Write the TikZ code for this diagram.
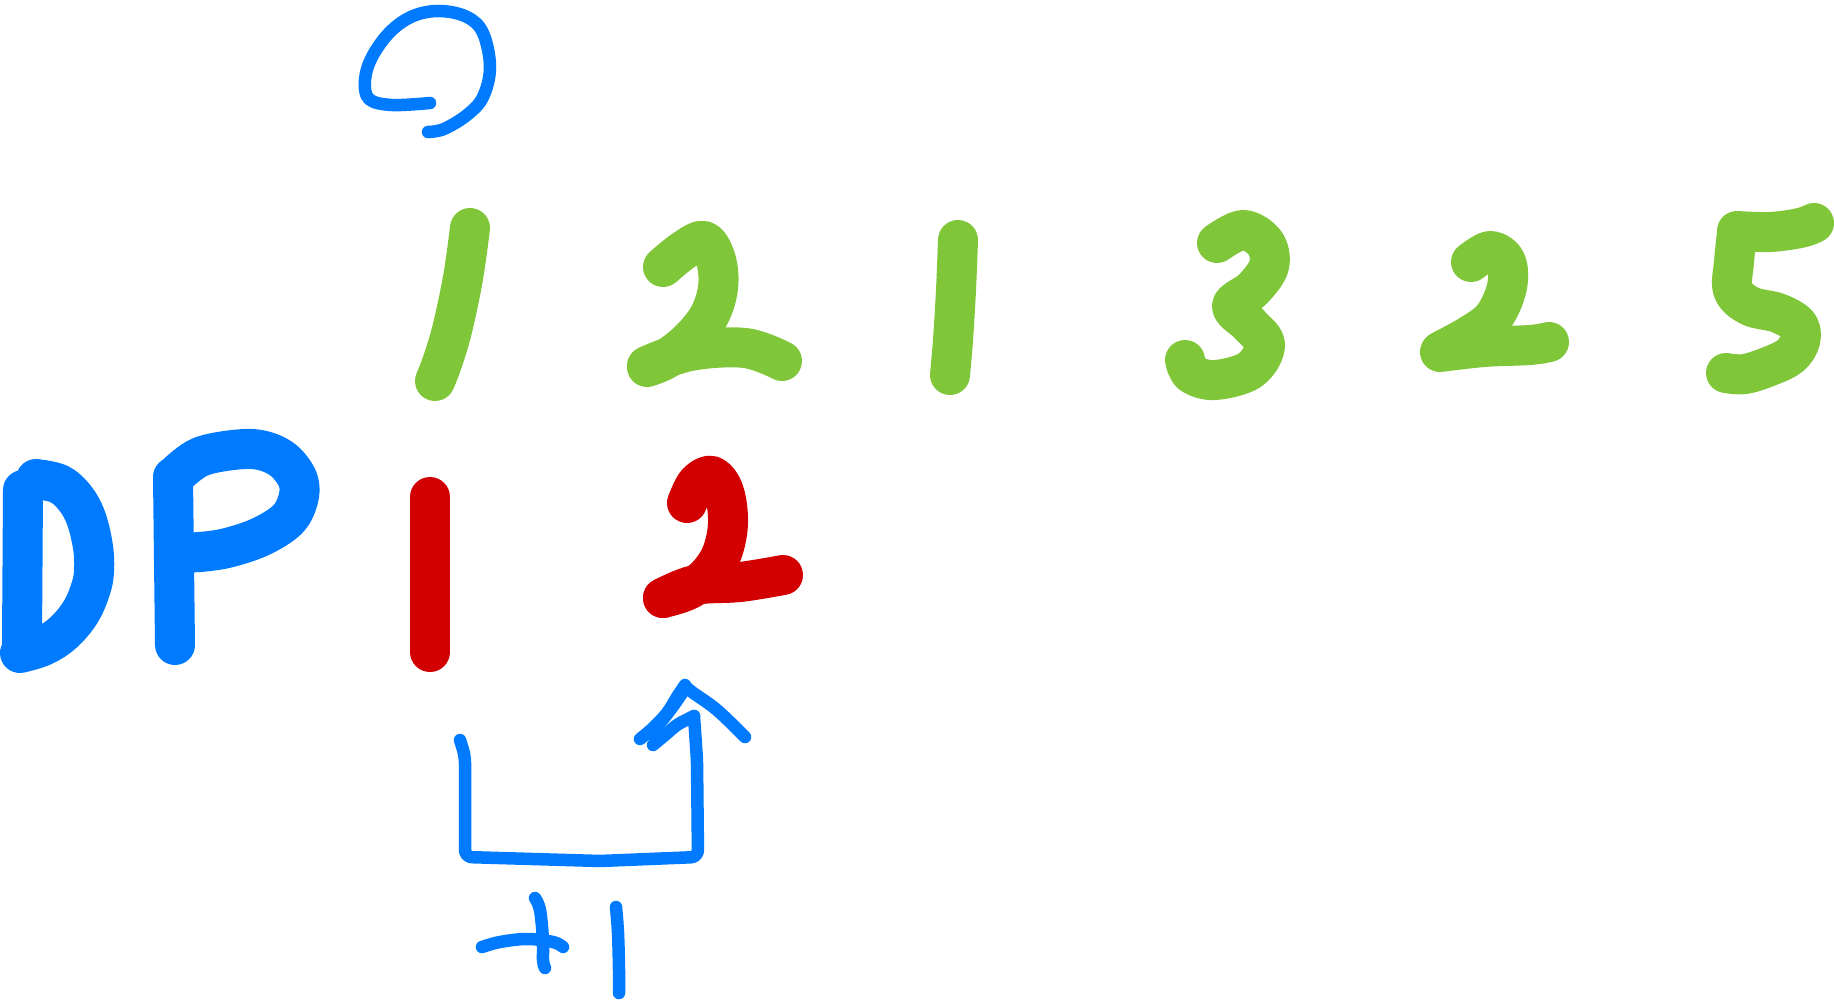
\documentclass[tikz,border=0pt]{standalone}
\definecolor{penblue}{HTML}{007BFF}
\definecolor{pengreen}{HTML}{7FC638}
\definecolor{penred}{HTML}{D20000}
\begin{document}
\begin{tikzpicture}[x=1pt,y=-1pt,
  heavy/.style={line width=40pt,line cap=round,line join=round},
  light/.style={line width=12.5pt,line cap=round,line join=round},
  sm/.style={smooth,tension=0.6}]
\useasboundingbox (0,0) rectangle (1834,1000);

% top blue hook
\draw[light,penblue] plot[sm] coordinates {(430,103)(392,105)(369,99)(365,80)(372,57)(390,32)(413,16)(440,11)(467,17)(483,33)(490,67)(483,97)(467,115)(444,129)(428,132)};

% green digits 1 2 1 3 2 5
\draw[heavy,pengreen] plot[sm] coordinates {(470,228)(463,278)(452,330)(442,363)(435,381)};
\draw[heavy,pengreen] plot[sm] coordinates {(663,267)(684,250)(704,241)(716,260)(718,288)(709,316)(690,340)(666,359)(647,367)};
\draw[heavy,pengreen] plot[sm] coordinates {(647,366)(690,351)(745,348)(782,361)};
\draw[heavy,pengreen] plot[sm] coordinates {(958,240)(956,290)(953,340)(950,375)};
\draw[heavy,pengreen] plot[sm] coordinates {(1217,243)(1243,230)(1265,243)(1269,266)(1253,289)(1232,306)(1250,325)(1265,345)(1250,370)(1215,380)(1192,374)(1185,360)};
\draw[heavy,pengreen] plot[sm] coordinates {(1471,262)(1490,251)(1505,260)(1508,280)(1502,302)(1490,321)(1467,337)(1441,351)};
\draw[heavy,pengreen] plot[sm] coordinates {(1440,352)(1484,347)(1530,345)(1549,342)};
\draw[heavy,pengreen] plot[sm] coordinates {(1737,231)(1770,232)(1800,228)(1814,223)};
\draw[heavy,pengreen] plot[sm] coordinates {(1737,233)(1734,262)(1733,290)(1750,306)(1778,313)(1798,325)(1800,341)(1790,356)(1770,366)(1745,374)(1726,373)};

% DP
\draw[heavy,penblue] (23,490) -- (22,643);
\draw[heavy,penblue] plot[sm] coordinates {(36,479)(59,484)(75,498)(86,518)(93,547)(94,572)(90,591)(80,613)(63,633)(43,646)(20,653)};
\draw[heavy,penblue] (173,477) -- (175,645);
\draw[heavy,penblue] plot[sm] coordinates {(178,473)(200,457)(233,450)(260,450)(283,460)(298,480)(298,500)(287,520)(260,537)(227,548)(200,552)(187,552)};

% red 1 2
\draw[heavy,penred] (430,497) -- (430,652);
\draw[heavy,penred] plot[sm] coordinates {(687,503)(697,483)(712,476)(724,492)(728,523)(722,553)(708,575)(688,590)(663,598)};
\draw[heavy,penred] plot[sm] coordinates {(663,598)(695,585)(740,582)(783,575)};

% arrow and U
\draw[light,penblue] plot[sm] coordinates {(640,739)(653,728)(667,713)(677,697)(685,685)};
\draw[light,penblue] plot[sm] coordinates {(685,686)(692,692)(717,710)(745,737)};
\draw[light,penblue] plot[sm] coordinates {(650,734)(664,718)(676,702)(684,690)};
\draw[light,penblue,rounded corners=7pt] (460,740) -- (465,756) -- (465,857) -- (600,861) -- (698,857) -- (697,760) -- (694,716);
\draw[light,penblue] plot[sm] coordinates {(694,716)(688,719)(677,725)(665,735)(653,745)};

% +1
\draw[light,penblue] plot[sm] coordinates {(535,898)(540,910)(543,940)(543,960)(545,968)};
\draw[light,penblue] plot[sm] coordinates {(482,947)(500,942)(527,939)(553,942)(563,947)};
\draw[light,penblue] plot[sm] coordinates {(616,907)(618,933)(619,970)(619,993)};
\end{tikzpicture}
\end{document}
